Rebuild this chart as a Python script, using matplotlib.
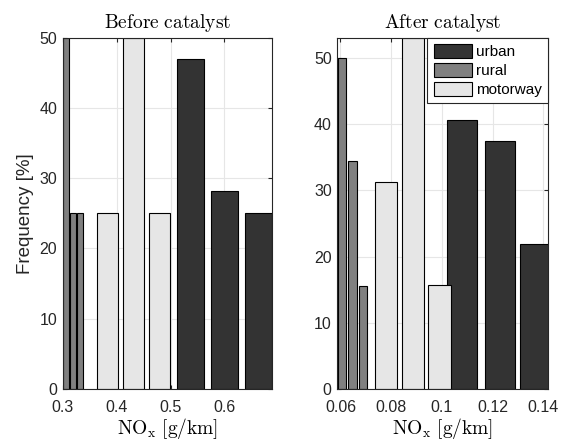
import matplotlib
matplotlib.use("Agg")
import matplotlib.pyplot as plt

plt.rcParams['font.family'] = ['Liberation Sans', 'DejaVu Sans']
plt.rcParams['mathtext.fontset'] = 'cm'

# before catalyst: bin centres [g/km] and frequencies [%]
before_urban_x = [0.5376, 0.5999, 0.6627]
before_urban_y = [47.0, 28.2, 25.0]
before_rural_x = [0.3055, 0.3197, 0.3317]
before_rural_y = [50.0, 25.0, 25.0]
before_motor_x = [0.3837, 0.4320, 0.4796]
before_motor_y = [25.0, 50.0, 25.0]

# after catalyst
after_urban_x = [0.10795, 0.12285, 0.13685]
after_urban_y = [40.6, 37.5, 21.9]
after_rural_x = [0.06055, 0.06475, 0.06885]
after_rural_y = [50.0, 34.4, 15.6]
after_motor_x = [0.0779, 0.0887, 0.0990]
after_motor_y = [31.25, 53.125, 15.625]

labels = ['urban', 'rural', 'motorway']
colors = ['#333333', '#808080', '#e6e6e6']

fig = plt.figure(figsize=(5.61, 4.43), dpi=100)
ax1 = fig.add_axes([0.1118, 0.1226, 0.3726, 0.7916])
ax2 = fig.add_axes([0.6012, 0.1226, 0.3761, 0.7923])


def style(ax):
    ax.set_axisbelow(True)
    ax.grid(True, color='#e6e6e6', linewidth=0.8)
    ax.tick_params(direction='in', top=True, right=True, length=3,
                   labelsize=11.5, color='#262626', labelcolor='#262626', pad=4)
    ax.tick_params(axis='x', pad=8)
    for s in ax.spines.values():
        s.set_color('#262626')
        s.set_linewidth(0.8)


style(ax1)
ax1.bar(before_urban_x, before_urban_y, width=0.050, color=colors[0], edgecolor='black', linewidth=0.8)
ax1.bar(before_rural_x, before_rural_y, width=0.0115, color=colors[1], edgecolor='black', linewidth=0.8)
ax1.bar(before_motor_x, before_motor_y, width=0.039, color=colors[2], edgecolor='black', linewidth=0.8)
ax1.set_xlim(0.3, 0.6877)
ax1.set_ylim(0, 50)
ax1.set_xticks([0.3, 0.4, 0.5, 0.6])
ax1.set_xticklabels(['0.3', '0.4', '0.5', '0.6'])
ax1.set_yticks([0, 10, 20, 30, 40, 50])
ax1.set_ylabel('Frequency [%]', fontsize=13.5, color='#262626', labelpad=4)
ax1.set_xlabel(r'$\mathrm{NO}_\mathrm{x}\ [\mathrm{g/km}]$', fontsize=14, labelpad=1)
ax1.set_title(r'$\mathrm{Before\ catalyst}$', fontsize=14, pad=7)

style(ax2)
b_u = ax2.bar(after_urban_x, after_urban_y, width=0.0121, color=colors[0], edgecolor='black', linewidth=0.8)
b_r = ax2.bar(after_rural_x, after_rural_y, width=0.0034, color=colors[1], edgecolor='black', linewidth=0.8)
b_m = ax2.bar(after_motor_x, after_motor_y, width=0.0088, color=colors[2], edgecolor='black', linewidth=0.8)
ax2.set_xlim(0.05874, 0.14189)
ax2.set_ylim(0, 53.125)
ax2.set_xticks([0.06, 0.08, 0.1, 0.12, 0.14])
ax2.set_xticklabels(['0.06', '0.08', '0.1', '0.12', '0.14'])
ax2.set_yticks([0, 10, 20, 30, 40, 50])
ax2.set_xlabel(r'$\mathrm{NO}_\mathrm{x}\ [\mathrm{g/km}]$', fontsize=14, labelpad=1)
ax2.set_title(r'$\mathrm{After\ catalyst}$', fontsize=14, pad=7)

leg = ax2.legend([b_u, b_r, b_m], labels, loc='upper right', fontsize=11,
                 handlelength=2.5, handleheight=1.05, handletextpad=0.3,
                 borderaxespad=0, borderpad=0.4, labelspacing=0.25,
                 fancybox=False, framealpha=1, edgecolor='#262626')
leg.get_frame().set_linewidth(0.8)

fig.savefig('out.png', dpi=100)
